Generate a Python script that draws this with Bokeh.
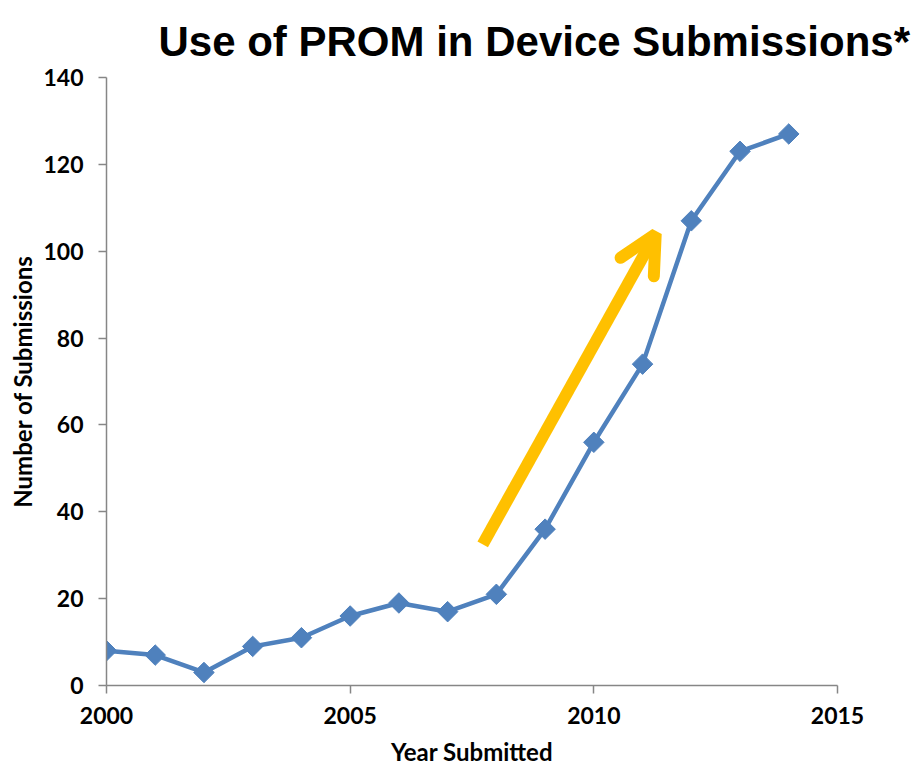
import math
from bokeh.plotting import figure
from bokeh.models import Range1d, FixedTicker, Arrow, OpenHead, Title
from bokeh.embed import file_html
from bokeh.resources import INLINE

years = [2000, 2001, 2002, 2003, 2004, 2005, 2006, 2007, 2008, 2009, 2010, 2011, 2012, 2013, 2014]
submissions = [8, 7, 3, 9, 11, 16, 19, 17, 21, 36, 56, 74, 107, 123, 127]
x_ticks = [2000, 2005, 2010, 2015]
y_ticks = [0, 20, 40, 60, 80, 100, 120, 140]
arrow_start = (2007.72, 32.5)
arrow_end = (2011.27, 104.0)
title_text = "Use of PROM in Device Submissions*"

p = figure(width=922, height=768, output_backend="svg", toolbar_location=None,
           x_range=Range1d(2000, 2015), y_range=Range1d(0, 140),
           min_border_left=106, min_border_right=85, min_border_top=77, min_border_bottom=82)
p.outline_line_color = None
p.xgrid.visible = False
p.ygrid.visible = False

p.title = Title(text=title_text, align="left", offset=52,
                text_font="Liberation Sans", text_font_size="42px", text_font_style="bold",
                text_color="#000000", standoff=26)

blue = "#4F81BD"
p.line(years, submissions, line_color=blue, line_width=4.5)
p.scatter(years, submissions, marker="square", size=14.5, angle=math.pi / 4,
          fill_color=blue, line_color=blue)

p.add_layout(Arrow(x_start=arrow_start[0], y_start=arrow_start[1], x_end=arrow_end[0], y_end=arrow_end[1],
                   line_color="#FFC000", line_width=12,
                   end=OpenHead(size=38, line_color="#FFC000", line_width=12, line_cap="round")))

for ax in (p.xaxis[0], p.yaxis[0]):
    ax.axis_line_color = "#868686"
    ax.axis_line_width = 1.5
    ax.major_tick_line_color = "#868686"
    ax.major_tick_line_width = 1.5
    ax.major_tick_out = 8
    ax.major_tick_in = 0
    ax.minor_tick_line_color = None
    ax.major_label_text_font = "Lato"
    ax.major_label_text_font_style = "bold"
    ax.major_label_text_font_size = "23px"
    ax.major_label_text_color = "#000000"
    ax.axis_label_text_font = "Lato"
    ax.axis_label_text_font_style = "bold"
    ax.axis_label_text_font_size = "24px"
    ax.axis_label_text_color = "#000000"

p.xaxis.ticker = FixedTicker(ticks=x_ticks)
p.yaxis.ticker = FixedTicker(ticks=y_ticks)
p.xaxis.axis_label = "Year Submitted"
p.yaxis.axis_label = "Number of Submissions"
p.xaxis.major_label_standoff = 13
p.yaxis.major_label_standoff = 15
p.xaxis.axis_label_standoff = 10
p.yaxis.axis_label_standoff = 3

open("out.html", "w").write(file_html(p, INLINE))
